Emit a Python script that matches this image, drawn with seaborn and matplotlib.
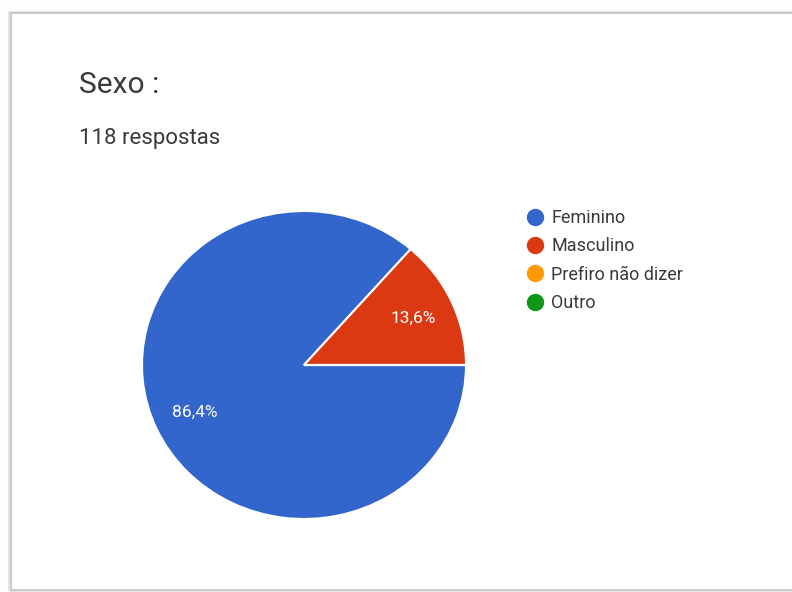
import matplotlib
matplotlib.use("Agg")
import matplotlib.pyplot as plt
from matplotlib.patches import Rectangle
from matplotlib.lines import Line2D
import seaborn as sns

# Survey answers
categories = ["Feminino", "Masculino", "Prefiro não dizer", "Outro"]
counts = [102, 16, 0, 0]
colors = ["#3366CC", "#DC3912", "#FF9900", "#109618"]
title = "Sexo :"
subtitle = "118 respostas"

sns.set_theme(style="white")
plt.rcParams["font.family"] = ["Roboto", "DejaVu Sans"]

W, H = 792, 592
fig = plt.figure(figsize=(W / 100, H / 100), dpi=100)
fig.patch.set_facecolor("#fdfdfd")

# Card outline with a soft shadow
fig.patches.append(Rectangle((10 / W, 1 / H), (W + 20) / W, (H - 14) / H,
                             transform=fig.transFigure, facecolor="none",
                             edgecolor="#e4e4e4", linewidth=3.5, zorder=-3))
fig.patches.append(Rectangle((11 / W, 2 / H), (W + 20) / W, (H - 15) / H,
                             transform=fig.transFigure, facecolor="white",
                             edgecolor="#c4c4c4", linewidth=1.2, zorder=-2))

fig.text(79 / W, 1 - 93 / H, title, fontsize=21.5, color="#3a3a3a", va="baseline", ha="left")
fig.text(79 / W, 1 - 144 / H, subtitle, fontsize=16, color="#3a3a3a", va="baseline", ha="left")

# Pie
cx, cy, rx, ry = 304, 365, 162, 154
ax = fig.add_axes([(cx - rx) / W, 1 - (cy + ry) / H, 2 * rx / W, 2 * ry / H])


def pct_label(p):
    return f"{p:.1f}%".replace(".", ",") if p > 0.5 else ""


wedges, _, autotexts = ax.pie(counts, colors=colors, startangle=0, counterclock=False,
                              autopct=pct_label, pctdistance=0.74,
                              wedgeprops=dict(edgecolor="white", linewidth=1.5),
                              textprops=dict(color="white", fontsize=12.5))
ax.set_aspect("auto")
ax.set_xlim(-1, 1)
ax.set_ylim(-1, 1)
ax.axis("off")

# Legend
handles = [Line2D([0], [0], marker="o", linestyle="none", markersize=11.5,
                  markerfacecolor=c, markeredgecolor=c) for c in colors]
fig.legend(handles, categories, loc="upper left", bbox_to_anchor=(515 / W, 1 - 200 / H),
           frameon=False, fontsize=13, handletextpad=0.3, labelspacing=0.57,
           handlelength=1.2, borderpad=0, labelcolor="#3a3a3a")

fig.savefig("out.png", dpi=100, facecolor=fig.get_facecolor())
